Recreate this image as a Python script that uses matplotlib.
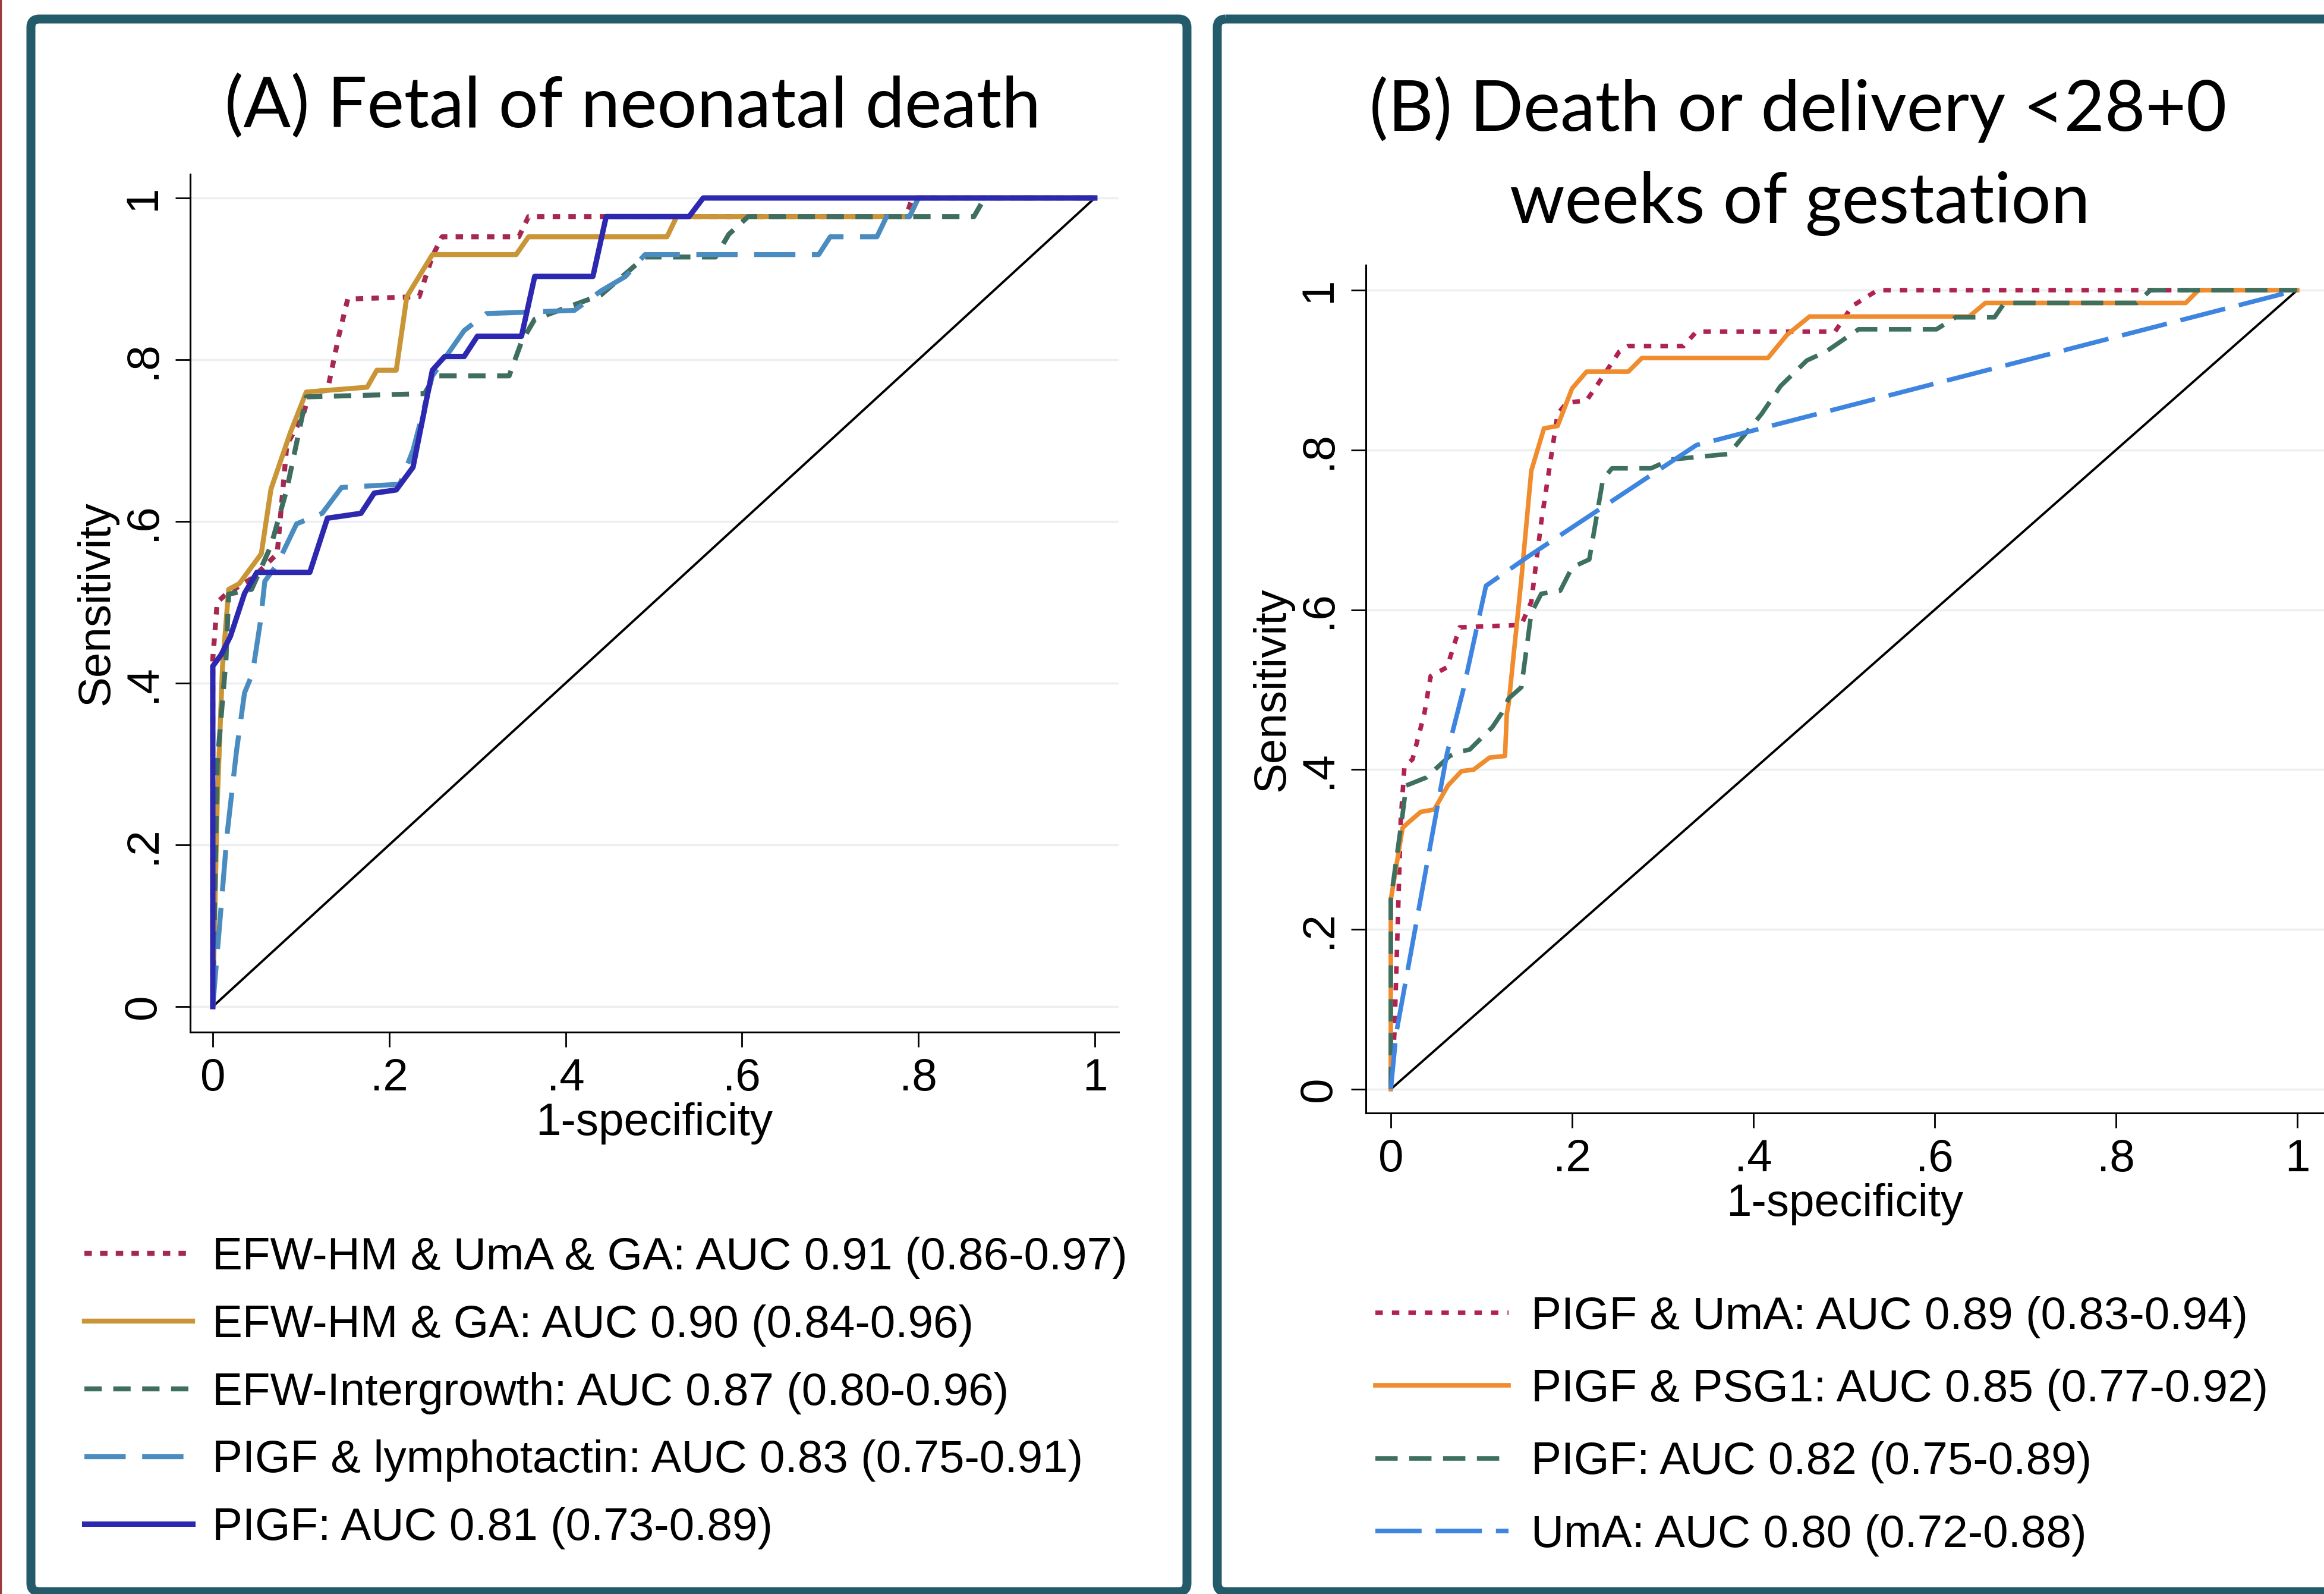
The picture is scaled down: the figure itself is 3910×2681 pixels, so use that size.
import numpy as np
import matplotlib
matplotlib.use('Agg')
import matplotlib.pyplot as plt
from matplotlib.patches import FancyBboxPatch

W, H, DPI = 3910, 2681, 100

# ---------- panel A: fetal or neonatal death ----------
a_labels = ['EFW-HM & UmA & GA: AUC 0.91 (0.86-0.97)',
            'EFW-HM & GA: AUC 0.90 (0.84-0.96)',
            'EFW-Intergrowth: AUC 0.87 (0.80-0.96)',
            'PIGF & lymphotactin: AUC 0.83 (0.75-0.91)',
            'PIGF: AUC 0.81 (0.73-0.89)']

a_efw_uma_ga_x = [0, 0, 0.005, 0.015, 0.045, 0.073, 0.084, 0.102, 0.11, 0.13, 0.143, 0.153,
                  0.234, 0.249, 0.26, 0.347, 0.358, 0.786, 0.793, 1]
a_efw_uma_ga_y = [0, 0.43, 0.50, 0.51, 0.53, 0.56, 0.695, 0.73, 0.76, 0.762, 0.83, 0.875,
                  0.878, 0.928, 0.952, 0.952, 0.977, 0.977, 1.0, 1]

a_efw_ga_x = [0, 0.005, 0.011, 0.018, 0.03, 0.055, 0.066, 0.088, 0.106, 0.175, 0.186, 0.208,
              0.22, 0.249, 0.344, 0.358, 0.515, 0.526, 0.79, 0.80, 1]
a_efw_ga_y = [0, 0.25, 0.42, 0.516, 0.523, 0.56, 0.64, 0.71, 0.76, 0.766, 0.787, 0.787,
              0.878, 0.93, 0.93, 0.952, 0.952, 0.977, 0.977, 1.0, 1]

a_intergrowth_x = [0, 0.005, 0.015, 0.018, 0.044, 0.066, 0.084, 0.106, 0.24, 0.252, 0.336, 0.35,
                   0.365, 0.44, 0.49, 0.57, 0.585, 0.607, 0.863, 0.875, 1]
a_intergrowth_y = [0, 0.30, 0.43, 0.51, 0.516, 0.57, 0.64, 0.754, 0.758, 0.78, 0.78, 0.822,
                   0.85, 0.88, 0.927, 0.927, 0.955, 0.977, 0.977, 1.0, 1]

a_plgf_lymph_x = [0, 0.0094, 0.016, 0.027, 0.036, 0.045, 0.054, 0.059, 0.073, 0.095, 0.124,
                  0.146, 0.212, 0.227, 0.249, 0.285, 0.31, 0.41, 0.44, 0.468, 0.49, 0.687,
                  0.70, 0.753, 0.764, 0.79, 0.80, 1]
a_plgf_lymph_y = [0, 0.123, 0.211, 0.317, 0.388, 0.412, 0.476, 0.526, 0.547, 0.597, 0.61,
                  0.642, 0.646, 0.688, 0.78, 0.836, 0.857, 0.861, 0.885, 0.903, 0.93, 0.93,
                  0.952, 0.952, 0.977, 0.977, 1.0, 1]

a_plgf_x = [0, 0, 0.0094, 0.02, 0.036, 0.05, 0.11, 0.13, 0.168, 0.183, 0.208, 0.227, 0.249,
            0.263, 0.285, 0.30, 0.35, 0.365, 0.431, 0.446, 0.54, 0.556, 1]
a_plgf_y = [0, 0.421, 0.435, 0.458, 0.511, 0.537, 0.537, 0.604, 0.61, 0.635, 0.639, 0.667,
            0.787, 0.804, 0.804, 0.829, 0.829, 0.903, 0.903, 0.977, 0.977, 1.0, 1]

# ---------- panel B: death or delivery <28+0 weeks ----------
b_labels = ['PIGF & UmA: AUC 0.89 (0.83-0.94)',
            'PIGF & PSG1: AUC 0.85 (0.77-0.92)',
            'PIGF: AUC 0.82 (0.75-0.89)',
            'UmA: AUC 0.80 (0.72-0.88)']

b_plgf_uma_x = [0, 0.004, 0.0076, 0.011, 0.015, 0.024, 0.037, 0.044, 0.062, 0.076, 0.144, 0.155,
                0.166, 0.184, 0.194, 0.216, 0.227, 0.252, 0.262, 0.323, 0.337, 0.49, 0.509,
                0.537, 1]
b_plgf_uma_y = [0, 0.07, 0.204, 0.337, 0.403, 0.413, 0.47, 0.517, 0.528, 0.578, 0.581, 0.61,
                0.71, 0.845, 0.859, 0.862, 0.88, 0.923, 0.93, 0.93, 0.948, 0.948, 0.98,
                1.0, 1]

b_plgf_psg1_x = [0, 0, 0.013, 0.0196, 0.033, 0.048, 0.063, 0.078, 0.0915, 0.109, 0.126, 0.128,
                 0.13, 0.144, 0.155, 0.169, 0.184, 0.2, 0.216, 0.262, 0.277, 0.416, 0.437,
                 0.462, 0.638, 0.656, 0.877, 0.891, 1]
b_plgf_psg1_y = [0, 0.237, 0.327, 0.334, 0.347, 0.35, 0.38, 0.398, 0.40, 0.415, 0.417, 0.47,
                 0.482, 0.638, 0.774, 0.827, 0.83, 0.877, 0.898, 0.898, 0.915, 0.915, 0.944,
                 0.967, 0.967, 0.984, 0.984, 1.0, 1]

b_plgf_x = [0, 0, 0.013, 0.017, 0.039, 0.065, 0.078, 0.087, 0.112, 0.122, 0.13, 0.144, 0.155,
            0.166, 0.187, 0.2, 0.219, 0.234, 0.244, 0.287, 0.309, 0.373, 0.409, 0.43, 0.459,
            0.48, 0.516, 0.602, 0.623, 0.666, 0.677, 0.823, 0.838, 1]
b_plgf_y = [0, 0.237, 0.344, 0.38, 0.39, 0.417, 0.423, 0.425, 0.453, 0.47, 0.489, 0.503, 0.596,
            0.62, 0.624, 0.653, 0.663, 0.763, 0.777, 0.777, 0.788, 0.795, 0.845, 0.88, 0.912,
            0.923, 0.951, 0.951, 0.966, 0.966, 0.984, 0.984, 1.0, 1]

b_uma_x = [0, 0.006, 0.03, 0.062, 0.08, 0.105, 0.152, 0.337, 1]
b_uma_y = [0, 0.07, 0.22, 0.42, 0.50, 0.63, 0.667, 0.806, 1]

ticks = [0, 0.2, 0.4, 0.6, 0.8, 1]
tick_labels = ['0', '.2', '.4', '.6', '.8', '1']

plt.rcParams['font.family'] = ['Liberation Sans', 'DejaVu Sans']
plt.rcParams['lines.scale_dashes'] = False

TEAL = '#235b6a'
FS = 55


def px_box(l, t, r, b):
    return [l / W, 1 - b / H, (r - l) / W, (b - t) / H]


def style_axes(ax, xlim, ylim):
    ax.set_xlim(*xlim)
    ax.set_ylim(*ylim)
    for s in ['top', 'right']:
        ax.spines[s].set_visible(False)
    for s in ['left', 'bottom']:
        ax.spines[s].set_linewidth(2.2)
    ax.set_xticks(ticks)
    ax.set_xticklabels(tick_labels)
    ax.set_yticks(ticks)
    ax.set_yticklabels(tick_labels, rotation=90, va='center')
    ax.tick_params(length=18, width=2, pad=13, labelsize=FS)
    ax.grid(axis='y', color='#ebeff1', lw=2.5)
    ax.set_axisbelow(True)
    ax.set_xlabel('1-specificity', fontsize=FS, labelpad=3)
    ax.set_ylabel('Sensitivity', fontsize=FS, labelpad=5)
    ax.plot([0, 1], [0, 1], color='black', lw=2.8, zorder=1)


fig = plt.figure(figsize=(W / DPI, H / DPI), dpi=DPI)

# frame layer: teal panel borders + titles
bg = fig.add_axes([0, 0, 1, 1])
bg.set_xlim(0, W)
bg.set_ylim(H, 0)
bg.axis('off')
bg.add_patch(FancyBboxPatch((52, 32), 1945, 2645, boxstyle='round,pad=0,rounding_size=14',
                            fill=False, ec=TEAL, lw=10.8))
bg.add_patch(FancyBboxPatch((2048, 32), 1950, 2645, boxstyle='round,pad=0,rounding_size=14',
                            fill=False, ec=TEAL, lw=10.8))
bg.plot([1.5, 1.5], [0, H], color='#9c3a3a', lw=2.5)
bg.text(1065, 215, '(A) Fetal of neonatal death', ha='center', va='baseline',
        family='Lato', fontsize=85)
bg.text(3025, 220, '(B) Death or delivery <28+0', ha='center', va='baseline',
        family='Lato', fontsize=85)
bg.text(3028, 375, 'weeks of gestation', ha='center', va='baseline',
        family='Lato', fontsize=85)

# panel A
axA = fig.add_axes(px_box(320, 293, 1882, 1736))
style_axes(axA, (-0.0256, 1.027), (-0.0316, 1.0294))
axA.plot(a_efw_uma_ga_x, a_efw_uma_ga_y, color='#a5284f', lw=6, dashes=(9, 10), label=a_labels[0])
axA.plot(a_efw_ga_x, a_efw_ga_y, color='#c99536', lw=6, label=a_labels[1])
axA.plot(a_intergrowth_x, a_intergrowth_y, color='#3f6e61', lw=6, dashes=(21, 14), label=a_labels[2])
axA.plot(a_plgf_lymph_x, a_plgf_lymph_y, color='#4a8cc0', lw=6, dashes=(50, 20), label=a_labels[3])
axA.plot(a_plgf_x, a_plgf_y, color='#2c28b0', lw=6.5, label=a_labels[4])
axA.legend(loc='upper left', bbox_to_anchor=(142 / W, 1 - 2080 / H),
           bbox_transform=fig.transFigure, frameon=False, fontsize=FS,
           borderpad=0, borderaxespad=0, handlelength=2.38, handletextpad=0.43,
           labelspacing=0.56)

# panel B
axB = fig.add_axes(px_box(2298, 446, 3910, 1872))
style_axes(axB, (-0.0275, 1.0295), (-0.0298, 1.03125))
axB.plot(b_plgf_uma_x, b_plgf_uma_y, color='#b0224f', lw=5.5, dashes=(9, 11), label=b_labels[0])
axB.plot(b_plgf_psg1_x, b_plgf_psg1_y, color='#f08c2e', lw=5.5, label=b_labels[1])
axB.plot(b_plgf_x, b_plgf_y, color='#3e7060', lw=5.5, dashes=(27, 14), label=b_labels[2])
axB.plot(b_uma_x, b_uma_y, color='#3d85e0', lw=5.5, dashes=(56, 17), label=b_labels[3])
axB.legend(loc='upper left', bbox_to_anchor=(2314 / W, 1 - 2180 / H),
           bbox_transform=fig.transFigure, frameon=False, fontsize=FS,
           borderpad=0, borderaxespad=0, handlelength=2.93, handletextpad=0.5,
           labelspacing=0.67)

fig.savefig('out.png', dpi=DPI)
